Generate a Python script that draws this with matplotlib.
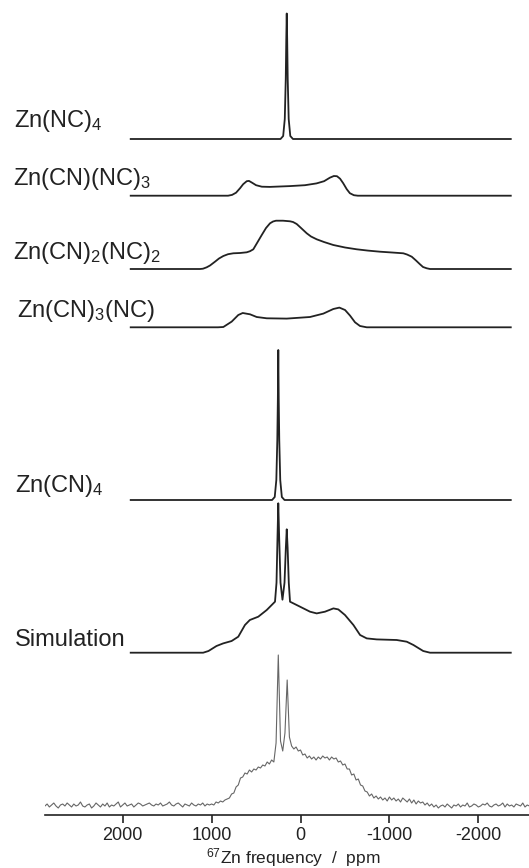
import numpy as np
import matplotlib
matplotlib.use('Agg')
import matplotlib.pyplot as plt

plt.rcParams['font.family'] = ['Liberation Sans', 'DejaVu Sans']
plt.rcParams['mathtext.default'] = 'regular'

# simulated sub-spectra (ppm, intensity above own baseline)
nc4_ppm = [1910, 225, 195, 177, 166, 160, 155, 150, 144, 133, 115, 85, -2365]
nc4_int = [0, 0, 3, 20, 60, 100, 125.5, 100, 60, 20, 3, 0, 0]

cn1_ppm = [1910, 815, 770, 725, 680, 645, 605, 580, 545, 500, 435, 345, 120, -50, -180,
           -265, -330, -375, -410, -445, -480, -520, -555, -600, -645, -2365]
cn1_int = [0, 0, 0.8, 3, 7.5, 11.5, 14.5, 14.8, 13, 10.5, 9, 8.8, 9.6, 10.5, 12.3,
           14.5, 18, 19.7, 19.5, 17, 12.5, 6.5, 2.5, 0.5, 0, 0]

cn2_ppm = [1910, 1130, 1097, 1055, 1018, 962, 917, 868, 815, 756, 680, 605, 568, 531, 489,
           436, 388, 343, 309, 276, 197, 118, 84, 43, -6, -70, -118, -182, -264, -369,
           -501, -632, -759, -894, -1029, -1156, -1198, -1251, -1299, -1344, -1378, -1420,
           -1457, -2365]
cn2_int = [0, 0, 0.3, 1.7, 3.5, 7.3, 10.5, 13, 14.8, 15.7, 16, 16.7, 17.8, 19.7, 26,
           34, 41, 45.7, 47.5, 48.3, 48.3, 47.7, 47, 45, 41, 35.7, 32.5, 29.7, 27, 24,
           21.5, 19.7, 18.4, 17.3, 16.5, 15.7, 14.5, 12.3, 8.5, 4.7, 2, 0.7,
           0, 0]

cn3_ppm = [1910, 928, 868, 774, 700, 650, 568, 493, 380, 155, -107, -257, -369, -437,
           -501, -557, -613, -669, -745, -2365]
cn3_int = [0, 0, 0.3, 5.7, 12.3, 14.3, 13, 10.3, 9, 8.7, 10.3, 13.7, 18.3, 19.7,
           17.3, 11.7, 5, 1.3, 0, 0]

cn4_ppm = [1910, 320, 290, 272, 261, 255, 250, 245, 239, 228, 210, 180, -2365]
cn4_int = [0, 0, 3, 20, 60, 100, 150, 100, 60, 20, 3, 0, 0]

sim_ppm = [1910, 1245, 1095, 1035, 945, 870, 775, 700, 625, 570, 475, 380, 287, 270,
           259, 250, 240, 225, 203, 180, 165, 155, 145, 132, 118, 5, -107, -182, -275,
           -370, -425, -500, -595, -670, -745, -857, -1082, -1195, -1270, -1380, -1457,
           -2365]
sim_int = [0, 0, 0, 1.7, 6.7, 9.3, 11.7, 16, 27.7, 32.7, 36, 42.7, 51, 70,
           115, 149.4, 115, 70, 53, 70, 105, 123.4, 105, 70, 51, 46, 41, 39.3, 41,
           44.3, 43.3, 37.7, 27.7, 17.7, 14.3, 13.3, 12.7, 11, 7.7, 1.7, 0,
           0]

# experimental spectrum, 25 ppm steps starting at 2875 ppm
exp_int = [9, 11, 8, 10, 12, 9, 7, 10, 11, 9,
           12, 10, 8, 11, 9, 10, 13, 9, 8, 10,
           11, 7, 9, 12, 10, 8, 11, 9, 12, 8,
           10, 9, 11, 13, 8, 10, 12, 9, 10, 11,
           8, 10, 12, 11, 9, 10, 11, 12, 10, 9,
           11, 10, 12, 9, 10, 11, 13, 10, 9, 11,
           12, 10, 8, 11, 10, 9, 12, 10, 9, 11,
           10, 12, 9, 11, 10,
           11, 10, 13, 12, 14, 13, 15, 16, 17, 21,
           22, 28, 30, 37, 38, 42, 41, 45, 43, 46,
           45, 48, 47, 50, 49, 53, 51, 55, 53,
           72, 160, 74, 64, 82, 135, 78, 69, 66, 68,
           64, 65, 60, 61, 57, 59, 56, 58, 55, 58,
           56, 59, 57, 58, 55, 58, 56, 57, 53, 54,
           50, 51, 46, 46, 40, 41, 35, 36, 30, 29,
           24, 23, 19, 21, 17, 19, 16, 18, 15, 17,
           14, 18, 15, 17, 14, 16, 13, 17, 15, 13,
           16, 12, 15, 11, 14, 12, 13, 10, 12, 9,
           11, 8, 10, 7,
           9, 10, 8, 11, 9, 7, 10, 9, 11, 8,
           10, 9, 12, 8, 9, 11, 10, 8, 9, 11,
           10, 12, 9, 8, 10, 11, 9, 10, 12, 8,
           11, 9, 10, 8, 11, 10, 9, 12, 8, 10,
           9]
exp_ppm = 2875 - 25 * np.arange(len(exp_int))

labels = ['Zn(NC)$_4$', 'Zn(CN)(NC)$_3$', 'Zn(CN)$_2$(NC)$_2$', 'Zn(CN)$_3$(NC)',
          'Zn(CN)$_4$', 'Simulation']
ticks = [2000, 1000, 0, -1000, -2000]

W, H = 529, 868
fig = plt.figure(figsize=(W / 100, H / 100), dpi=100)
ax = fig.add_axes([45 / W, 53 / H, 1 - 45 / W, 815 / H])

traces = [(nc4_ppm, nc4_int), (cn1_ppm, cn1_int), (cn2_ppm, cn2_int),
          (cn3_ppm, cn3_int), (cn4_ppm, cn4_int), (sim_ppm, sim_int)]
offsets = [676, 619.3, 546, 487.7, 315, 162.3]
for (x, y), off in zip(traces, offsets):
    ax.plot(x, np.array(y) + off, color='#222222', lw=1.3, solid_joinstyle='round')

ax.plot(exp_ppm, exp_int, color='#666666', lw=0.8)

ax.set_xlim(2874, -2570)
ax.set_ylim(0, 815)
for s in ['left', 'top', 'right']:
    ax.spines[s].set_visible(False)
ax.spines['bottom'].set_linewidth(1.2)
ax.spines['bottom'].set_color('#222222')
ax.set_yticks([])
ax.set_xticks(ticks)
ax.set_xticklabels([str(t) for t in ticks])
ax.tick_params(axis='x', direction='out', length=6, width=1.2, color='#222222',
               labelsize=13, pad=3, labelcolor='#222222')

# label positions (left x, baseline y) in pixels
label_pos = [(13.5, 126.5), (13, 185), (13, 259), (17, 317), (15, 491.6), (15, 645.5)]
for lab, (px, py) in zip(labels, label_pos):
    fig.text(px / W, 1 - py / H, lab, fontsize=17, va='baseline', ha='left',
             color='#222222')

fig.text(292.7 / W, 1 - 863 / H, '$^{67}$Zn frequency  /  ppm', fontsize=12.5,
         ha='center', va='baseline', color='#222222')

fig.savefig('out.png', dpi=100)
